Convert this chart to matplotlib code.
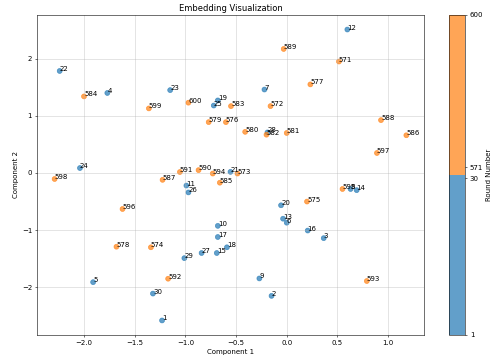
import numpy as np
import matplotlib
matplotlib.use('Agg')
import matplotlib.pyplot as plt
from matplotlib.colors import ListedColormap, FuncNorm

# rounds 1-30 (early) and 571-600 (late)
early_rounds = list(range(1, 31))
early_x = [-1.23, -0.15, 0.365, -1.77, -1.91, 0.0, -0.22, 0.63, -0.27, -0.68,
           -0.99, 0.598, -0.036, 0.69, -0.69, 0.207, -0.68, -0.59, -0.68, -0.056,
           -0.555, -2.24, -1.15, -2.04, -0.72, -0.97, -0.84, -0.19, -1.01, -1.32]
early_y = [-2.58, -2.15, -1.14, 1.40, -1.91, -0.87, 1.46, -0.28, -1.845, -0.925,
           -0.22, 2.51, -0.80, -0.30, -1.40, -1.007, -1.12, -1.30, 1.27, -0.565,
           0.02, 1.785, 1.45, 0.087, 1.18, -0.34, -1.40, 0.71, -1.49, -2.11]

late_rounds = list(range(571, 601))
late_x = [0.515, -0.16, -0.486, -1.34, 0.20, -0.60, 0.233, -1.68, -0.77, -0.41,
          0.0, -0.20, -0.55, -2.00, -0.66, 1.18, -1.225, 0.93, -0.03, -0.87,
          -1.054, -1.17, 0.79, -0.73, 0.55, -1.62, 0.89, -2.29, -1.36, -0.97]
late_y = [1.95, 1.17, -0.01, -1.30, -0.50, 0.89, 1.55, -1.29, 0.89, 0.72,
          0.70, 0.67, 1.17, 1.34, -0.17, 0.66, -0.12, 0.925, 2.17, 0.05,
          0.017, -1.85, -1.89, -0.01, -0.28, -0.63, 0.35, -0.105, 1.13, 1.23]

cbar_ticks = [1, 30, 571, 600]
cbar_pos = [0.0, 0.49, 0.524, 1.0]

rounds = np.array(early_rounds + late_rounds)
xs = np.array(early_x + late_x)
ys = np.array(early_y + late_y)

cmap = ListedColormap(['#1f77b4', '#ff7f0e'])
norm = FuncNorm((lambda v: np.interp(v, cbar_ticks, cbar_pos),
                 lambda p: np.interp(p, cbar_pos, cbar_ticks)), vmin=1, vmax=600)

fig = plt.figure(figsize=(9.82, 7.24), dpi=50)
ax = fig.add_axes([0.0754, 0.0746, 0.788, 0.884])
cax = fig.add_axes([0.9145, 0.0746, 0.0326, 0.884])

sc = ax.scatter(xs, ys, c=rounds, cmap=cmap, norm=norm, s=50, alpha=0.7)
for r, x, y in zip(rounds, xs, ys):
    ax.annotate(str(r), (x, y))

ax.set_title('Embedding Visualization')
ax.set_xlabel('Component 1')
ax.set_ylabel('Component 2')
ax.grid(True, alpha=0.6)

cbar = fig.colorbar(sc, cax=cax, ticks=cbar_ticks)
cbar.minorticks_off()
cbar.set_label('Round Number')

fig.savefig('out.png', dpi=50)
